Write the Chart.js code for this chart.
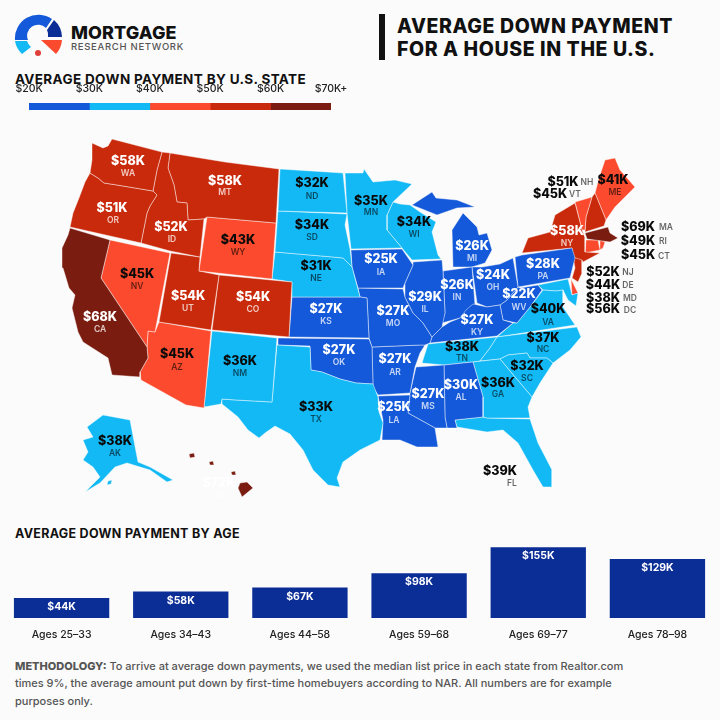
<!DOCTYPE html>
<html>
<head>
<meta charset="utf-8">
<script src="https://cdn.jsdelivr.net/npm/chart.js@4"></script>
<style>
html, body { margin: 0; padding: 0; background: #fbfbfb; }
#page { position: relative; width: 720px; height: 720px; overflow: hidden; font-family: Inter, sans-serif; color: #111; }
#page > * { position: absolute; }
canvas { display: block; }
.head { font-weight: 800; white-space: nowrap; }
</style>
</head>
<body>
<div id="page">
  <svg style="left:13px;top:13px" width="52" height="48" viewBox="13 13 52 48">
    <path d="M15 40 A23.500 23.500 0 0 1 52 19 L46 28 A11 11 0 0 0 28 40 Z" fill="#1459d9"/>
    <path d="M54 20 A23.500 23.500 0 0 1 62 37 L48 37 A11 11 0 0 0 47 30 Z" fill="#0b2d96"/>
    <path d="M15 41 L27 41 A12 12 0 0 0 31 47 L22 54 A23 23 0 0 1 15 41 Z" fill="#12b9f5"/>
    <path d="M41 40 L62 40 A24 24 0 0 1 56 54 Z" fill="#fb4a2d"/>
    <circle cx="38" cy="53" r="3" fill="#e0403a"/>
  </svg>
  <div class="head" style="left:71px;top:22px;font-size:18px;line-height:22px;letter-spacing:.1px">MORTGAGE</div>
  <div style="left:71px;top:41px;font-size:9.500px;line-height:12px;font-weight:500;color:#555;letter-spacing:.7px;white-space:nowrap">RESEARCH NETWORK</div>
  <div style="left:379px;top:14px;width:6px;height:46px;background:#111"></div>
  <div class="head" style="left:397px;top:15px;font-size:19.500px;line-height:23px;letter-spacing:.6px">AVERAGE DOWN PAYMENT<br>FOR A HOUSE IN THE U.S.</div>
  <div class="head" style="left:15px;top:71px;font-size:13.500px;line-height:16px;letter-spacing:.35px;font-weight:700">AVERAGE DOWN PAYMENT BY U.S. STATE</div>
  <canvas id="legendBand" width="360" height="30" style="left:0;top:84px"></canvas>
  <canvas id="map" width="720" height="390" style="left:0;top:120px"></canvas>
  <div class="head" style="left:15px;top:526px;font-size:12.500px;line-height:16px;font-weight:700;letter-spacing:.3px">AVERAGE DOWN PAYMENT BY AGE</div>
  <canvas id="ages" width="715" height="96" style="left:2px;top:544px"></canvas>
  <div style="left:15px;top:658px;font-size:11px;line-height:17.300px;color:#555;white-space:nowrap;font-weight:500"><b style="font-weight:800">METHODOLOGY:</b> To arrive at average down payments, we used the median list price in each state from Realtor.com<br>times 9%, the average amount put down by first-time homebuyers according to NAR. All numbers are for example<br>purposes only.</div>
</div>
<script>
const stateCodes = ['WA','OR','CA','NV','ID','MT','WY','UT','CO','AZ','NM','TX','ND','SD','NE','KS','OK','MN','WI','IA','IL','MO','AR','LA','MS','AL','GA','FL','SC','NC','TN','KY','IN','OH','MI','WV','PA','VA','MD','DE','NJ','NY','VT','NH','MA','CT','RI','ME','AK','HI','DC'];
const stateValues = [58,51,68,45,52,58,43,54,54,45,36,33,32,34,31,27,27,35,34,25,29,27,27,25,27,30,36,39,32,37,38,27,26,24,26,22,28,40,38,44,52,58,45,51,69,45,49,41,38,72,56];

const ageLabels = ['Ages 25–33','Ages 34–43','Ages 44–58','Ages 59–68','Ages 69–77','Ages 78–98'];
const ageValues = [44,58,67,98,155,129];

const binEdges = [20,30,40,50,60,70];
const binColors = ['#1459d9','#12b9f5','#fb4a2d','#c92a0c','#7a1c10'];

// state outlines in map units
const stateOutlines = {
  WA: [[[92,143],[103,148],[108,146],[112,139],[135,145],[162,152],[157,170],[153,191],[135,188],[117,185],[104,183],[98,178],[90,173],[92,160]]],
  OR: [[[90,173],[98,178],[104,183],[117,185],[135,188],[153,191],[157,195],[150,206],[147,213],[144,228],[141,243],[70,227],[73,213],[79,198],[85,182]]],
  CA: [[[70,228],[110,240],[101,278],[147,347],[148,358],[140,372],[140,377],[112,375],[108,358],[83,342],[78,332],[72,308],[75,295],[69,288],[63,268],[62,248],[68,235]]],
  NV: [[[110,240],[170,253],[155,332],[148,331],[147,347],[101,278]]],
  ID: [[[162,152],[170,153],[168,168],[174,185],[177,202],[187,203],[188,220],[204,219],[200,257],[170,251],[141,243],[144,228],[147,213],[150,206],[157,195],[153,191],[157,170]]],
  MT: [[[170,153],[225,162],[279,169],[276,223],[207,217],[204,219],[188,220],[187,203],[177,202],[174,185],[168,168]]],
  WY: [[[207,217],[276,223],[272,279],[199,271]]],
  UT: [[[171,253],[200,257],[199,271],[219,275],[211,330],[159,322]]],
  CO: [[[219,275],[292,282],[289,337],[212,330]]],
  AZ: [[[155,332],[159,322],[211,331],[204,408],[186,405],[141,380],[140,372],[148,358],[147,347],[148,331]]],
  NM: [[[212,331],[277,338],[272,402],[236,400],[222,399],[221,404],[204,407]]],
  TX: [[[277,345],[310,347],[311,370],[322,372],[340,379],[356,383],[373,384],[378,397],[379,412],[383,423],[380,440],[360,450],[343,462],[337,478],[340,487],[328,485],[313,470],[303,450],[290,434],[275,426],[265,433],[259,438],[248,430],[238,417],[222,404],[222,399],[236,400],[272,402]]],
  ND: [[[280,169],[343,173],[347,213],[278,211]]],
  SD: [[[278,211],[347,214],[345,225],[350,249],[352,267],[343,258],[333,257],[275,252]]],
  NE: [[[275,252],[333,257],[343,258],[352,267],[360,297],[292,297],[292,282],[272,279]]],
  KS: [[[292,297],[360,297],[367,298],[369,338],[289,337]]],
  OK: [[[278,338],[369,339],[372,347],[373,384],[356,383],[340,379],[322,372],[311,370],[310,346],[278,345]]],
  MN: [[[345,173],[363,173],[364,169],[373,182],[395,180],[412,184],[393,202],[387,215],[387,230],[402,248],[351,249],[347,213]]],
  WI: [[[393,202],[400,204],[410,205],[420,212],[436,222],[432,232],[438,255],[441,259],[412,260],[402,248],[387,230],[387,215]]],
  IA: [[[351,250],[402,249],[413,265],[405,283],[403,288],[358,288],[352,267]]],
  IL: [[[413,262],[442,260],[443,272],[445,313],[442,327],[432,337],[423,323],[413,313],[405,297],[405,283],[413,265]]],
  MO: [[[358,288],[403,289],[405,297],[413,313],[423,323],[432,337],[430,343],[425,345],[420,345],[372,347],[369,338],[367,298],[360,297]]],
  AR: [[[372,347],[420,345],[425,345],[420,353],[415,367],[410,393],[378,395],[373,387]]],
  LA: [[[378,396],[410,395],[408,413],[435,428],[438,447],[417,447],[400,440],[382,440],[383,420]]],
  MS: [[[416,367],[444,365],[445,417],[447,428],[435,428],[408,413],[410,393]]],
  AL: [[[444,365],[473,362],[483,397],[483,417],[455,420],[457,428],[447,428],[445,417]]],
  GA: [[[473,362],[500,359],[515,377],[532,397],[528,407],[530,418],[487,418],[483,417],[483,397]]],
  FL: [[[455,420],[483,417],[487,418],[530,419],[538,443],[552,470],[552,487],[543,487],[533,470],[518,443],[503,430],[487,432],[457,427]]],
  SC: [[[500,359],[508,355],[527,353],[530,358],[547,358],[553,363],[540,383],[532,397],[515,377]]],
  NC: [[[577,327],[581,337],[570,350],[553,363],[547,358],[530,358],[527,353],[508,355],[500,359],[480,361],[490,348],[497,337]]],
  TN: [[[428,344],[497,337],[490,348],[480,361],[473,362],[444,365],[422,363]]],
  KY: [[[432,337],[442,327],[450,322],[460,318],[466,310],[473,304],[487,307],[500,305],[503,320],[513,323],[497,336],[430,343]]],
  IN: [[[443,271],[472,267],[475,305],[460,318],[442,323],[445,313]]],
  OH: [[[472,267],[482,267],[500,264],[513,258],[518,287],[507,300],[500,305],[487,307],[477,303]]],
  MI: [[[412,205],[432,192],[436,198],[457,200],[475,207],[457,208],[437,215]],[[453,267],[452,230],[463,213],[477,227],[479,235],[487,233],[492,250],[485,263],[472,267]]],
  WV: [[[518,287],[520,288],[538,285],[542,290],[530,307],[517,323],[503,320],[500,305],[507,300]]],
  PA: [[[515,257],[522,255],[572,248],[575,258],[570,278],[518,287]]],
  VA: [[[543,290],[556,291],[563,290],[563,307],[575,325],[497,337],[513,323],[517,323],[530,307]]],
  MD: [[[538,285],[568,279],[572,295],[578,293],[576,306],[568,300],[563,290],[556,291],[543,290]]],
  DE: [[[571,279],[578,293],[572,295]]],
  NJ: [[[573,257],[582,260],[582,273],[578,282],[572,278],[575,268]]],
  NY: [[[522,253],[528,238],[550,232],[555,215],[575,203],[582,230],[585,238],[585,252],[600,253],[583,262],[573,257],[572,248]]],
  VT: [[[575,202],[592,197],[586,217],[585,230],[582,230]]],
  NH: [[[592,197],[595,193],[606,220],[604,226],[585,232],[586,217]]],
  MA: [[[585,233],[608,227],[610,233],[618,238],[610,242],[587,239]]],
  CT: [[[586,240],[598,240],[600,250],[585,253]]],
  RI: [[[600,240],[605,242],[603,248],[600,250]]],
  ME: [[[599,178],[605,160],[615,158],[620,170],[635,187],[615,207],[606,220],[595,193]]],
  AK: [[[87,427],[103,415],[130,420],[138,462],[150,467],[173,480],[167,482],[150,470],[127,463],[115,467],[100,483],[85,492],[100,477],[93,467],[83,460],[88,452],[83,440],[93,437]],[[108,481],[112,480],[111,484],[107,485]]],
  HI: [[[189,454],[194,453],[195,457],[190,458]],[[209,462],[213,461],[214,465],[210,465]],[[231,472],[235,471],[236,475],[232,475]],[[238,488],[240,483],[247,482],[253,488],[242,497]]],
  DC: [[[563,289],[565,288],[566,291],[564,292]]]
};

// [value x, value y, code x, code y], map units
const labelSpots = {
  WA:[128,161,128,173], MT:[225,181,225,192], OR:[112,208,113,220], ID:[171,227,172,239], WY:[238,240,238,252],
  NV:[137,274,137,286], UT:[188,296,188,308], CO:[253,297,253,309], CA:[100,317,100,329], AZ:[177,354,177,367],
  NM:[240,361,240,373], ND:[312,183,312,196], SD:[312,225,312,237], NE:[316,266,316,278], KS:[326,309,326,321],
  OK:[339,350,339,362], TX:[316,407,316,419], MN:[371,201,371,212], WI:[414,222,414,234], IA:[381,259,381,272],
  MO:[393,311,393,323], IL:[425,297,425,309], IN:[457,285,457,297], MI:[472,246,472,258], OH:[493,275,493,287],
  KY:[477,320,477,332], PA:[543,264,543,276], WV:[519,294,519,307], VA:[548,309,548,322], NC:[543,338,543,349],
  TN:[462,347,462,358], AR:[395,359,395,372], SC:[527,366,527,378], GA:[498,383,498,394], AL:[461,385,461,397],
  MS:[428,394,428,406], LA:[394,407,394,420], FL:[500,471,512,483], NY:[567,231,567,243], ME:[613,180,615,192],
  AK:[115,441,115,453], HI:[219,483,220,495],
  NH:[563,182,587,182], VT:[550,194,575,194], MA:[638,227,666,227], RI:[638,241,663,241], CT:[638,255,664,256],
  NJ:[603,272,628,272], DE:[603,285,628,285], MD:[603,298,630,298], DC:[603,309,630,310]
};
const outsideStates = ['NH','VT','MA','RI','CT','NJ','DE','MD','DC'];

function binColor(v) {
  for (let i = 1; i < binEdges.length - 1; i++) {
    if (v <= binEdges[i]) return binColors[i - 1];
  }
  return binColors[binColors.length - 1];
}

function darkBin(v) {
  return v <= 30 || v >= 50;
}

const FONT = 'Inter, sans-serif';

const stateLabelPlugin = {
  id: 'stateLabels',
  afterDraw(chart) {
    const c = chart.ctx;
    const sx = chart.scales.x, sy = chart.scales.y;
    c.save();
    c.textAlign = 'center';
    c.textBaseline = 'middle';
    stateCodes.forEach((code, i) => {
      const spot = labelSpots[code];
      const val = stateValues[i];
      const outside = outsideStates.includes(code);
      const light = !outside && darkBin(val);
      c.font = '800 12.5px ' + FONT;
      c.fillStyle = light ? '#fff' : '#0a0a0a';
      c.fillText('$' + val + 'K', sx.getPixelForValue(spot[0]), sy.getPixelForValue(spot[1]));
      c.font = '600 8.5px ' + FONT;
      c.fillStyle = light ? 'rgba(255,255,255,.75)' : 'rgba(0,0,0,.6)';
      c.fillText(code, sx.getPixelForValue(spot[2]), sy.getPixelForValue(spot[3]));
    });
    c.restore();
  }
};

const mapDatasets = [];
stateCodes.forEach((code, i) => {
  stateOutlines[code].forEach(outline => {
    const pts = outline.concat([outline[0]]).map(p => ({ x: p[0], y: p[1] }));
    mapDatasets.push({
      label: code,
      data: pts,
      showLine: true,
      fill: 'shape',
      backgroundColor: binColor(stateValues[i]),
      borderColor: 'rgba(255,255,255,.55)',
      borderWidth: 0.8,
      pointRadius: 0,
      tension: 0
    });
  });
});

new Chart(document.getElementById('map'), {
  type: 'scatter',
  data: { datasets: mapDatasets },
  options: {
    responsive: false,
    animation: false,
    events: [],
    plugins: { legend: { display: false }, tooltip: { enabled: false } },
    scales: {
      x: { type: 'linear', min: 0, max: 720, display: false },
      y: { type: 'linear', min: 120, max: 510, reverse: true, display: false }
    }
  },
  plugins: [stateLabelPlugin]
});

new Chart(document.getElementById('legendBand'), {
  type: 'bar',
  data: {
    labels: ['bins'],
    datasets: binColors.map((col, i) => ({
      data: [[binEdges[i], binEdges[i + 1]]],
      backgroundColor: col,
      barPercentage: 1,
      categoryPercentage: 1,
      grouped: false
    }))
  },
  options: {
    indexAxis: 'y',
    responsive: false,
    animation: false,
    events: [],
    layout: { padding: { left: 29, right: 29, bottom: 4 } },
    plugins: { legend: { display: false }, tooltip: { enabled: false } },
    scales: {
      y: { display: false },
      x: {
        position: 'top',
        min: binEdges[0],
        max: binEdges[binEdges.length - 1],
        grid: { display: false },
        border: { display: false },
        afterFit(scale) { scale.height = 19; },
        ticks: {
          stepSize: 10,
          maxRotation: 0,
          padding: 0,
          color: '#222',
          font: { family: FONT, size: 10.5, weight: '500' },
          callback: v => '$' + v + 'K' + (v === binEdges[binEdges.length - 1] ? '+' : '')
        }
      }
    }
  }
});

const barLabelPlugin = {
  id: 'barLabels',
  afterDatasetsDraw(chart) {
    const c = chart.ctx;
    const meta = chart.getDatasetMeta(0);
    c.save();
    c.textAlign = 'center';
    c.textBaseline = 'middle';
    c.fillStyle = '#fff';
    c.font = '700 10.5px ' + FONT;
    meta.data.forEach((bar, i) => {
      c.fillText('$' + ageValues[i] + 'K', bar.x, bar.y + 9);
    });
    c.restore();
  }
};

new Chart(document.getElementById('ages'), {
  type: 'bar',
  data: {
    labels: ageLabels,
    datasets: [{
      data: ageValues,
      backgroundColor: '#0b2d96',
      barPercentage: 0.8,
      categoryPercentage: 1
    }]
  },
  options: {
    responsive: false,
    animation: false,
    events: [],
    plugins: { legend: { display: false }, tooltip: { enabled: false } },
    scales: {
      y: { display: false, min: 0, max: 162 },
      x: {
        grid: { display: false },
        border: { display: false },
        afterFit(scale) { scale.height = 22; },
        ticks: {
          maxRotation: 0,
          padding: 3,
          color: '#222',
          font: { family: FONT, size: 10.5, weight: '500' }
        }
      }
    }
  },
  plugins: [barLabelPlugin]
});
</script>
</body>
</html>
